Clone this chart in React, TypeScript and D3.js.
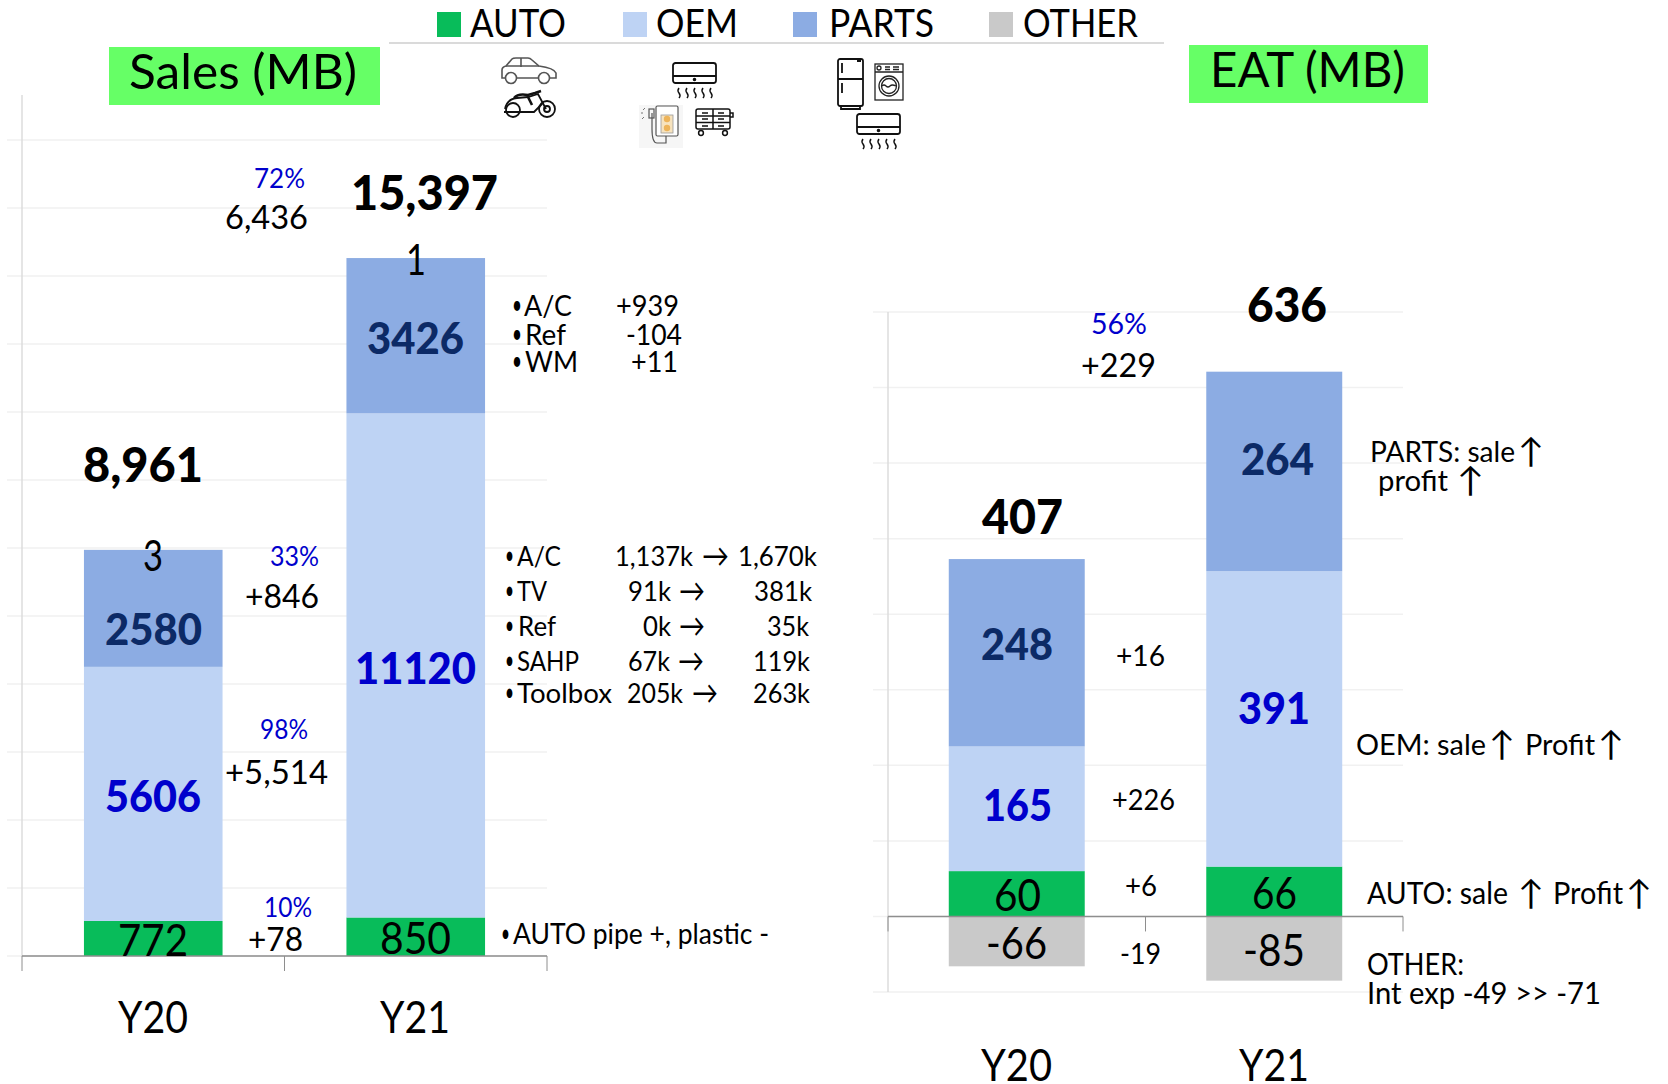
import React from 'react';
import * as d3 from 'd3';

const years = ['Y20', 'Y21'];
const segments = ['AUTO', 'OEM', 'PARTS', 'OTHER'];
const segmentColors = ['#08BC5A', '#BED3F4', '#8CACE3', '#C9C9C9'];

const salesAuto = [772, 850];
const salesOem = [5606, 11120];
const salesParts = [2580, 3426];
const salesOther = [3, 1];
const salesTotals = ['8,961', '15,397'];
const salesTicks = d3.range(0, 18001, 1500);

const eatAuto = [60, 66];
const eatOem = [165, 391];
const eatParts = [248, 264];
const eatOther = [-66, -85];
const eatTotals = ['407', '636'];
const eatTicks = d3.range(-100, 801, 100);

const salesDeltas = ['+78', '+5,514', '+846', '6,436'];
const salesPct = ['10%', '98%', '33%', '72%'];
const eatDeltas = ['+6', '+226', '+16', '-19', '+229'];

const BLUE = '#0000CC';
const NAVY = '#0C2A66';
const GRID = '#F1F1F1';

function rowsOf(a: number[], b: number[], c: number[], d: number[]) {
  return years.map((year, i) => ({ year, AUTO: a[i], OEM: b[i], PARTS: c[i], OTHER: d[i] }));
}

const stack = d3.stack<any>().keys(segments).offset(d3.stackOffsetDiverging);

// text with a fixed left/right edge, the original is a squeezed powerpoint export
function T({ a, b, y, size, bold, fill, children }: any) {
  return (
    <text
      x={a}
      y={y}
      textLength={b - a}
      lengthAdjust="spacingAndGlyphs"
      fontSize={size}
      fontWeight={bold ? 900 : 400}
      fill={fill || '#000'}
    >
      {children}
    </text>
  );
}

function Chart({ rows, y, ticks, x0, x1, gridLeft, axisTop, tickLen }: any) {
  const x = d3.scaleBand().domain(years).range([x0, x1]);
  const barW = x.bandwidth() * 0.528;
  const zero = y(0);
  const series = stack(rows);
  return (
    <g>
      {ticks.map((t: number) => (
        <line key={t} x1={gridLeft} x2={x1} y1={y(t)} y2={y(t)} stroke={GRID} strokeWidth={1.5} />
      ))}
      {series.map((s: any, i: number) => (
        <g key={s.key} fill={segmentColors[i]}>
          {s.map((d: any) => (
            <rect
              key={d.data.year}
              x={x(d.data.year)! + (x.bandwidth() - barW) / 2}
              width={barW}
              y={y(Math.max(d[0], d[1]))}
              height={Math.abs(y(d[0]) - y(d[1]))}
            />
          ))}
        </g>
      ))}
      <line x1={x0} x2={x0} y1={axisTop} y2={y(ticks[0])} stroke="#DDDDDD" strokeWidth={1.5} />
      <line x1={x0} x2={x1} y1={zero} y2={zero} stroke="#8E8E8E" strokeWidth={1.5} />
      {[x0, x0 + x.step(), x1].map((p: number) => (
        <line key={p} x1={p} x2={p} y1={zero} y2={zero + tickLen} stroke="#8E8E8E" strokeWidth={1} />
      ))}
    </g>
  );
}

function AcIcon({ x, y }: any) {
  return (
    <g transform={`translate(${x},${y})`} fill="none" stroke="#111" strokeWidth={1.8}>
      <rect x={0} y={0} width={43} height={20} rx={2.5} />
      <line x1={0} x2={43} y1={13} y2={13} />
      <circle cx={21.5} cy={16.5} r={0.9} fill="#111" />
      {[6, 14, 22, 30, 38].map(w => (
        <path key={w} d={`M${w},25 q-2,2.5 0,5 q2,2.5 0,5`} strokeWidth={1.5} />
      ))}
    </g>
  );
}

function Icons() {
  return (
    <g>
      {/* car */}
      <g transform="translate(501,57)" fill="none" stroke="#555" strokeWidth={1.6}>
        <path d="M4,21 H1 V13 Q1,10 5,9 L11,2 Q12,1 15,1 H27 Q29,1 31,3 L38,9 Q53,11 55,16 V21 H48" />
        <path d="M16,21 H38 M20,1 V10 M5,9 H38" />
        <circle cx={10} cy={21} r={5.5} />
        <circle cx={43} cy={21} r={5.5} />
      </g>
      {/* motorbike */}
      <g transform="translate(504,90)" fill="none" stroke="#111" strokeWidth={1.8}>
        <circle cx={9} cy={20} r={7} />
        <circle cx={43} cy={19} r={8} />
        <circle cx={43} cy={19} r={3} />
        <path d="M1,19 Q3,9 13,8 L24,7 L34,4 L42,19 M0,22 H30 L38,14" />
        <path d="M10,8 Q14,3 24,5 L31,3 L37,1 M24,7 L28,15" strokeWidth={2.6} />
      </g>
      <AcIcon x={673} y={63} />
      {/* water heater */}
      <g transform="translate(640,105)">
        <rect x={-1} y={0} width={44} height={43} fill="#F6F6F6" />
        <rect x={16} y={1} width={22} height={30} rx={1.5} fill="#fff" stroke="#555" strokeWidth={1.2} />
        <rect x={21} y={10} width={12} height={18} fill="#F7E3BE" stroke="#999" strokeWidth={0.8} />
        <circle cx={27} cy={14} r={3.2} fill="#EDB45A" />
        <circle cx={27} cy={23} r={3.2} fill="#EDB45A" />
        <path d="M12,8 V24 Q12,38 17,38 H26 V31" fill="none" stroke="#555" strokeWidth={1.2} />
        <rect x={9} y={4} width={5} height={9} fill="none" stroke="#555" strokeWidth={1.2} />
        <path d="M5,3 L3,5 M3,8 H1 M4,12 L2,14" stroke="#777" strokeWidth={1} />
      </g>
      {/* toolbox */}
      <g transform="translate(695,108)" fill="none" stroke="#111" strokeWidth={1.5}>
        <rect x={1} y={1} width={34} height={20} rx={2} />
        <path d="M18,1 V21 M1,8 H35 M1,14.5 H35 M35,5 H38 V9 H35" />
        <path d="M7,5 H13 M23,5 H29 M7,11 H13 M23,11 H29 M7,18 H13 M23,18 H29" />
        <circle cx={6} cy={25} r={2.4} />
        <circle cx={30} cy={25} r={2.4} />
      </g>
      {/* fridge */}
      <g transform="translate(837,58)" fill="none" stroke="#111" strokeWidth={1.8}>
        <rect x={1} y={1} width={25} height={47} rx={2} />
        <path d="M1,21 H26 M5,5 V15 M5,25 V35 M4,48 V51 H23 V48 M20,3 H24" />
      </g>
      {/* washer */}
      <g transform="translate(874,63)" fill="none" stroke="#222" strokeWidth={1.3}>
        <rect x={1} y={1} width={28} height={36} />
        <path d="M1,9 H29 M11,4 H16 M11,6.5 H16 M19,4 H25 M19,6.5 H25" />
        <circle cx={5} cy={5} r={2} />
        <circle cx={15} cy={23} r={10} />
        <circle cx={15} cy={23} r={7.5} />
        <path d="M8,23 q2,-2 4,0 t4,0 t6,0" />
      </g>
      <AcIcon x={857} y={114} />
    </g>
  );
}

export default function App() {
  const ySales = d3.scaleLinear().domain([0, 18000]).range([956, 140]);
  const yEat = d3.scaleLinear().domain([-100, 800]).range([992, 312]);

  return (
    <svg
      width={1668}
      height={1084}
      fontFamily="Lato, 'DejaVu Sans', sans-serif"
      style={{ position: 'absolute', left: 0, top: 0, display: 'block', background: '#fff' }}
    >
      {/* legend */}
      <line x1={389} x2={1164} y1={43} y2={43} stroke="#DADADA" strokeWidth={2} />
      {[437, 623, 793, 989].map((p, i) => (
        <rect key={p} x={p} y={12} width={24} height={25} fill={segmentColors[i]} />
      ))}
      <T a={470} b={566} y={37} size={38}>{segments[0]}</T>
      <T a={656} b={738} y={37} size={38}>{segments[1]}</T>
      <T a={829} b={934} y={37} size={38}>{segments[2]}</T>
      <T a={1023} b={1138} y={37} size={38}>{segments[3]}</T>

      <rect x={109} y={47} width={271} height={58} fill="#66FF66" />
      <T a={129} b={357} y={89} size={48}>Sales (MB)</T>
      <rect x={1189} y={45} width={239} height={58} fill="#66FF66" />
      <T a={1210} b={1405} y={87} size={48}>EAT (MB)</T>

      <Icons />

      <Chart
        rows={rowsOf(salesAuto, salesOem, salesParts, salesOther)}
        y={ySales}
        ticks={salesTicks}
        x0={22}
        x1={547}
        gridLeft={7}
        axisTop={95}
        tickLen={15}
      />
      <Chart
        rows={rowsOf(eatAuto, eatOem, eatParts, eatOther)}
        y={yEat}
        ticks={eatTicks}
        x0={888}
        x1={1403}
        gridLeft={873}
        axisTop={312}
        tickLen={15}
      />

      {/* sales labels */}
      <T a={83} b={203} y={482} size={48} bold>{salesTotals[0]}</T>
      <T a={351} b={498} y={210} size={48} bold>{salesTotals[1]}</T>
      <T a={143} b={163} y={571} size={42}>{salesOther[0]}</T>
      <T a={406} b={426} y={275} size={42}>{salesOther[1]}</T>
      <T a={105} b={202} y={645} size={44} bold fill={NAVY}>{salesParts[0]}</T>
      <T a={367} b={464} y={354} size={44} bold fill={NAVY}>{salesParts[1]}</T>
      <T a={105} b={201} y={812} size={44} bold fill={BLUE}>{salesOem[0]}</T>
      <T a={355} b={476} y={684} size={44} bold fill={BLUE}>{salesOem[1]}</T>
      <T a={118} b={188} y={956} size={44}>{salesAuto[0]}</T>
      <T a={380} b={451} y={954} size={44}>{salesAuto[1]}</T>
      <T a={118} b={188} y={1033} size={44}>{years[0]}</T>
      <T a={380} b={450} y={1033} size={44}>{years[1]}</T>

      <T a={264} b={312} y={917} size={26} fill={BLUE}>{salesPct[0]}</T>
      <T a={248} b={303} y={951} size={33}>{salesDeltas[0]}</T>
      <T a={260} b={308} y={739} size={26} fill={BLUE}>{salesPct[1]}</T>
      <T a={225} b={328} y={784} size={33}>{salesDeltas[1]}</T>
      <T a={270} b={319} y={566} size={26} fill={BLUE}>{salesPct[2]}</T>
      <T a={245} b={319} y={608} size={33}>{salesDeltas[2]}</T>
      <T a={254} b={305} y={188} size={27} fill={BLUE}>{salesPct[3]}</T>
      <T a={225} b={308} y={229} size={33}>{salesDeltas[3]}</T>

      {/* parts notes */}
      <g>
        <T a={512} b={522} y={314} size={26}>•</T>
        <T a={524} b={572} y={316} size={28}>A/C</T>
        <T a={616} b={679} y={316} size={28}>+939</T>
        <T a={512} b={522} y={343} size={26}>•</T>
        <T a={525} b={566} y={345} size={28}>Ref</T>
        <T a={626} b={682} y={345} size={28}>-104</T>
        <T a={512} b={522} y={370} size={26}>•</T>
        <T a={525} b={578} y={372} size={28}>WM</T>
        <T a={631} b={678} y={372} size={28}>+11</T>
      </g>

      {/* oem notes */}
      <g>
        <T a={505} b={514} y={564} size={25}>•</T>
        <T a={517} b={561} y={566} size={27}>A/C</T>
        <T a={615} b={693} y={566} size={27}>1,137k</T>
        <T a={702} b={729} y={567} size={32}>→</T>
        <T a={738} b={817} y={566} size={27}>1,670k</T>
        <T a={505} b={514} y={599} size={25}>•</T>
        <T a={517} b={547} y={601} size={27}>TV</T>
        <T a={628} b={671} y={601} size={27}>91k</T>
        <T a={679} b={705} y={602} size={32}>→</T>
        <T a={754} b={812} y={601} size={27}>381k</T>
        <T a={505} b={514} y={634} size={25}>•</T>
        <T a={518} b={556} y={636} size={27}>Ref</T>
        <T a={643} b={671} y={636} size={27}>0k</T>
        <T a={679} b={705} y={637} size={32}>→</T>
        <T a={767} b={809} y={636} size={27}>35k</T>
        <T a={505} b={514} y={669} size={25}>•</T>
        <T a={517} b={579} y={671} size={27}>SAHP</T>
        <T a={628} b={670} y={671} size={27}>67k</T>
        <T a={678} b={704} y={672} size={32}>→</T>
        <T a={753} b={810} y={671} size={27}>119k</T>
        <T a={505} b={514} y={701} size={25}>•</T>
        <T a={517} b={612} y={703} size={27}>Toolbox</T>
        <T a={627} b={683} y={703} size={27}>205k</T>
        <T a={692} b={718} y={704} size={32}>→</T>
        <T a={753} b={810} y={703} size={27}>263k</T>
      </g>

      <T a={501} b={510} y={942} size={25}>•</T>
      <T a={513} b={769} y={944} size={28}>AUTO pipe +, plastic -</T>

      {/* EAT labels */}
      <T a={982} b={1063} y={534} size={48} bold>{eatTotals[0]}</T>
      <T a={1247} b={1327} y={322} size={48} bold>{eatTotals[1]}</T>
      <T a={981} b={1053} y={660} size={44} bold fill={NAVY}>{eatParts[0]}</T>
      <T a={1241} b={1314} y={475} size={44} bold fill={NAVY}>{eatParts[1]}</T>
      <T a={983} b={1052} y={821} size={44} bold fill={BLUE}>{eatOem[0]}</T>
      <T a={1238} b={1310} y={724} size={44} bold fill={BLUE}>{eatOem[1]}</T>
      <T a={994} b={1041} y={911} size={44}>{eatAuto[0]}</T>
      <T a={1252} b={1297} y={909} size={44}>{eatAuto[1]}</T>
      <T a={986} b={1047} y={959} size={44}>{eatOther[0]}</T>
      <T a={1243} b={1305} y={966} size={44}>{eatOther[1]}</T>
      <T a={981} b={1052} y={1081} size={44}>{years[0]}</T>
      <T a={1239} b={1309} y={1081} size={44}>{years[1]}</T>

      <T a={1091} b={1147} y={334} size={28} fill={BLUE}>56%</T>
      <T a={1081} b={1156} y={377} size={33}>{eatDeltas[4]}</T>
      <T a={1116} b={1165} y={666} size={28}>{eatDeltas[2]}</T>
      <T a={1112} b={1175} y={810} size={28}>{eatDeltas[1]}</T>
      <T a={1125} b={1157} y={896} size={28}>{eatDeltas[0]}</T>
      <T a={1120} b={1161} y={964} size={28}>{eatDeltas[3]}</T>

      <T a={1370} b={1515} y={462} size={29}>PARTS: sale</T>
      <T a={1518} b={1544} y={463} size={34}>↑</T>
      <T a={1378} b={1448} y={491} size={29}>profit</T>
      <T a={1457} b={1484} y={492} size={34}>↑</T>
      <T a={1356} b={1486} y={755} size={29}>OEM: sale</T>
      <T a={1489} b={1515} y={756} size={34}>↑</T>
      <T a={1525} b={1595} y={755} size={29}>Profit</T>
      <T a={1598} b={1624} y={756} size={34}>↑</T>
      <T a={1367} b={1508} y={904} size={30}>AUTO: sale</T>
      <T a={1518} b={1544} y={905} size={34}>↑</T>
      <T a={1553} b={1623} y={904} size={30}>Profit</T>
      <T a={1626} b={1652} y={905} size={34}>↑</T>
      <T a={1367} b={1464} y={975} size={30}>OTHER:</T>
      <T a={1367} b={1601} y={1004} size={30}>Int exp  -49 &gt;&gt; -71</T>
    </svg>
  );
}
